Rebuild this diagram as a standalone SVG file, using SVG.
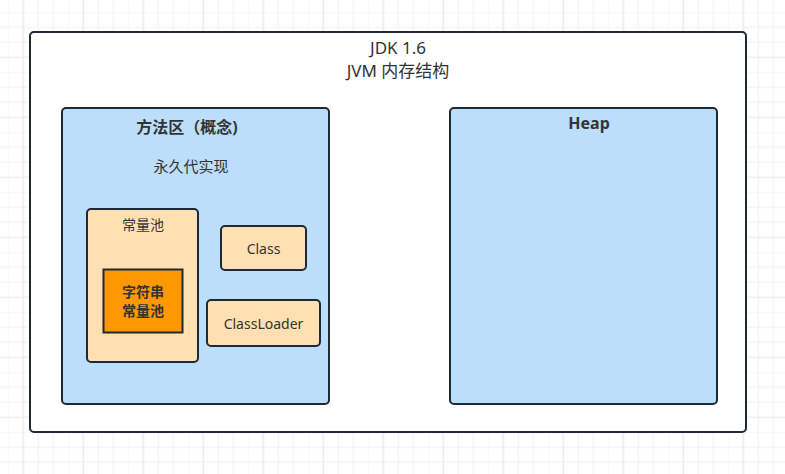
<svg xmlns="http://www.w3.org/2000/svg" width="785" height="474" viewBox="0 0 785 474">
  <defs>
    <pattern id="grid" x="8.3" y="12.3" width="60" height="60" patternUnits="userSpaceOnUse">
      <path d="M15 0V60M30 0V60M45 0V60M0 15H60M0 30H60M0 0H60" stroke="#f0f0f0" stroke-width="1" fill="none"/>
      <path d="M0 0V60" stroke="#f0f0f0" stroke-width="1" fill="none"/>
      <path d="M15 0V60" stroke="#e6e6e6" stroke-width="1" fill="none"/>
      <path d="M0 45H60" stroke="#e6e6e6" stroke-width="1" fill="none"/>
    </pattern>
  </defs>
  <style>
    .box { stroke: #1f2933; stroke-width: 2; }
    .t { font-family: "Noto Sans", "Open Sans", "Noto Sans CJK SC", sans-serif; fill: #333333; text-anchor: middle; }
    .b { font-weight: bold; }
  </style>
  <rect x="0" y="0" width="785" height="474" fill="#ffffff"/>
  <rect x="0" y="0" width="785" height="474" fill="url(#grid)"/>

  <g id="jvm">
    <rect class="box" x="30" y="32" width="716" height="400" rx="4" fill="#ffffff"/>
    <text class="t" x="398" y="54" font-size="17">JDK 1.6</text>
    <text class="t" x="398" y="77" font-size="17">JVM 内存结构</text>
  </g>

  <g id="method-area">
    <rect class="box" x="62" y="108" width="267" height="296" rx="4" fill="#bbdefb"/>
    <text class="t b" x="187" y="133" font-size="16">方法区（概念)</text>
    <text class="t" x="191" y="172" font-size="15">永久代实现</text>
  </g>

  <g id="heap">
    <rect class="box" x="450" y="108" width="267" height="296" rx="4" fill="#bbdefb"/>
    <text class="t b" x="589" y="129" font-size="16">Heap</text>
  </g>

  <g id="constant-pool">
    <rect class="box" x="87" y="209" width="111" height="153" rx="4" fill="#ffe0b2"/>
    <text class="t" x="143" y="230" font-size="14">常量池</text>
  </g>

  <g id="string-pool">
    <rect class="box" x="103.5" y="269.5" width="79" height="63" fill="#ff9800"/>
    <text class="t b" x="143" y="297" font-size="14">字符串</text>
    <text class="t b" x="143" y="316" font-size="14">常量池</text>
  </g>

  <g id="class">
    <rect class="box" x="221" y="226" width="85" height="44" rx="4" fill="#ffe0b2"/>
    <text class="t" x="263.5" y="254" font-size="14">Class</text>
  </g>

  <g id="classloader">
    <rect class="box" x="207" y="300" width="113" height="46" rx="4" fill="#ffe0b2"/>
    <text class="t" x="263.5" y="328.5" font-size="14">ClassLoader</text>
  </g>

  <g id="connectors"></g>
</svg>
